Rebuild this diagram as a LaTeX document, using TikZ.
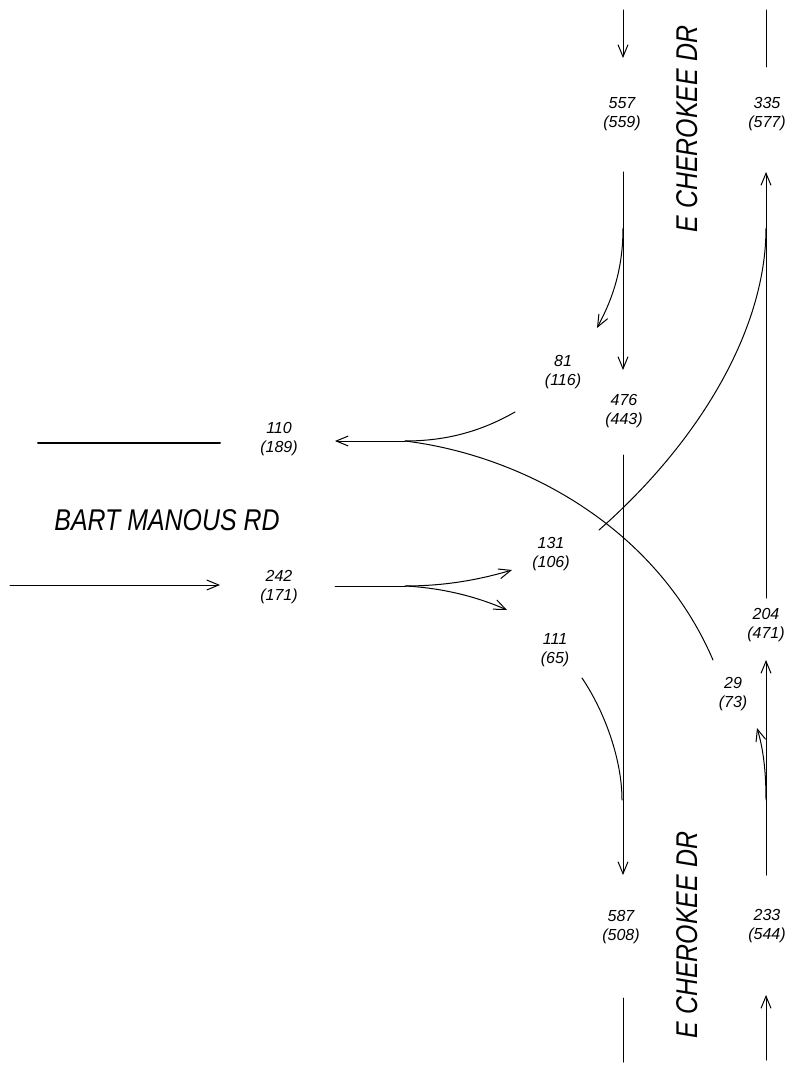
\documentclass[tikz,border=0pt]{standalone}
\usepackage{fontspec}
\setmainfont{Liberation Sans}
\usepackage{graphicx}
\usetikzlibrary{arrows.meta}
\tikzset{
  vol/.style={align=center, inner sep=1pt, font=\fontsize{16}{19}\selectfont\itshape},
  roadname/.style={inner sep=0pt, font=\fontsize{30}{32}\selectfont\itshape},
  flow/.style={-{Straight Barb[length=12pt,width=10pt]}, line width=1pt},
  lane/.style={line width=1pt}
}
\newcommand{\rdname}[1]{\scalebox{0.83}[1]{#1}}

\begin{document}
\begin{tikzpicture}[x=1pt, y=-1pt, line cap=round]
\useasboundingbox (0,0) rectangle (801,1067);

% street names
\node[roadname, rotate=90] (cherokeeN) at (687,129) {\rdname{E CHEROKEE DR}};
\node[roadname, rotate=90] (cherokeeS) at (687,935) {\rdname{E CHEROKEE DR}};
\node[roadname] (bart) at (167,520) {\rdname{BART MANOUS RD}};

% volumes
\node[vol] (sbIn)  at (622,114) {557\\(559)};
\node[vol] (nbOut) at (767,114) {335\\(577)};
\node[vol] (sbLt)  at (563,372) {81\\(116)};
\node[vol] (sbTh)  at (624,411) {476\\(443)};
\node[vol] (wbOut) at (279,439) {110\\(189)};
\node[vol] (ebIn)  at (279,587) {242\\(171)};
\node[vol] (ebLt)  at (551,554) {131\\(106)};
\node[vol] (ebRt)  at (555,650) {111\\(65)};
\node[vol] (nbTh)  at (766,625) {204\\(471)};
\node[vol] (nbRt)  at (733,694) {29\\(73)};
\node[vol] (sbOut) at (621,927) {587\\(508)};
\node[vol] (nbIn)  at (767,926) {233\\(544)};

% southbound lane
\coordinate (sb1) at (623,10);
\coordinate (sb2) at (623,58);
\coordinate (sb3) at (623,172);
\coordinate (sbL) at (623,228);
\coordinate (sbLend) at (597,328);
\coordinate (sb4) at (623,370);
\coordinate (sb5) at (623,455);
\coordinate (sbR) at (622,800);
\coordinate (sb6) at (623,875);
\coordinate (sb7) at (623,998);
\coordinate (sb8) at (623,1062);

% northbound lane
\coordinate (nb1) at (766,10);
\coordinate (nb2) at (766,67);
\coordinate (nb3) at (766,172);
\coordinate (nbL) at (766,228);
\coordinate (nb4) at (766,598);
\coordinate (nb5) at (766,660);
\coordinate (nbR) at (766,800);
\coordinate (nbRend) at (757,728);
\coordinate (nb6) at (766,875);
\coordinate (nb7) at (766,995);
\coordinate (nb8) at (766,1060);

% westbound and eastbound
\coordinate (wb1) at (38,443);
\coordinate (wb2) at (220,443);
\coordinate (wb3) at (335,441);
\coordinate (wbM) at (405,441);
\coordinate (wbL) at (515,412);
\coordinate (wbR) at (713,660);
\coordinate (eb1) at (10,585);
\coordinate (eb2) at (220,585);
\coordinate (eb3) at (335,586);
\coordinate (ebM) at (405,586);
\coordinate (ebLend) at (512,570);
\coordinate (ebRend) at (507,610);
\coordinate (ebL) at (599,530);
\coordinate (ebR) at (582,678);

\draw[flow] (sb1)--(sb2);
\draw[flow] (sb3)--(sb4);
\draw[flow] (sbL) .. controls +(0,42) and +(15,-28) .. (sbLend);
\draw[flow] (sb5)--(sb6);
\draw[lane] (ebR) .. controls +(23,34) and +(0,-40) .. (sbR);
\draw[lane] (sb7)--(sb8);

\draw[lane] (nb1)--(nb2);
\draw[flow] (nb4)--(nb3);
\draw[lane] (ebL) .. controls +(100,-88) and +(0,102) .. (nbL);
\draw[flow] (nb6)--(nb5);
\draw[flow] (nbR) .. controls +(0,-30) and +(6,20) .. (nbRend);
\draw[flow] (nb8)--(nb7);

\draw[lane, line width=2pt] (wb1)--(wb2);
\draw[flow] (wbM)--(wb3);
\draw[lane] (wbL) .. controls +(-35,20) and +(40,0) .. (wbM);
\draw[lane] (wbR) .. controls +(-58,-135) and +(115,14) .. (wbM);

\draw[flow] (eb1)--(eb2);
\draw[lane] (eb3)--(ebM);
\draw[flow] (ebM) .. controls +(45,0) and +(-27,8) .. (ebLend);
\draw[flow] (ebM) .. controls +(40,2) and +(-27,-12) .. (ebRend);
\end{tikzpicture}
\end{document}
